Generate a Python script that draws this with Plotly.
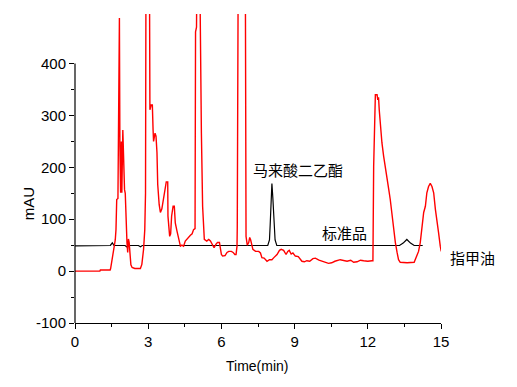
import plotly.graph_objects as go

# 指甲油 (red) trace: time (min) and signal (mAU); 600 = peak runs off the top
red_t = [0.00, 1.02, 1.04, 1.44, 1.46, 1.50, 1.55, 1.60, 1.65, 1.68, 1.71, 1.76, 1.79, 1.82, 1.84, 1.87,
         1.90, 1.92, 1.96, 1.99, 2.03, 2.06, 2.10, 2.13, 2.16, 2.19, 2.22, 2.25, 2.29, 2.34, 2.45,
         2.68, 2.74, 2.81, 2.86, 2.89, 2.91, 3.05, 3.07, 3.12, 3.17, 3.20, 3.22, 3.28, 3.32, 3.36,
         3.39, 3.45, 3.50, 3.56, 3.63, 3.70, 3.74, 3.80, 3.81, 3.88, 3.92, 3.96, 4.02, 4.07, 4.11,
         4.18, 4.25, 4.32, 4.38, 4.45, 4.52, 4.59, 4.66, 4.73, 4.80, 4.86, 4.92, 4.94, 4.98, 5.00,
         5.11, 5.13, 5.18, 5.23, 5.27, 5.30, 5.40, 5.48, 5.55, 5.64, 5.70, 5.78, 5.84, 5.92, 5.95,
         6.00, 6.05, 6.15, 6.23, 6.30, 6.41, 6.48, 6.55, 6.60, 6.64, 6.65, 6.69, 6.98, 7.01, 7.06,
         7.12, 7.16, 7.20, 7.26, 7.29, 7.40, 7.53, 7.60, 7.66, 7.75, 7.87, 7.97, 8.07, 8.15, 8.28,
         8.38, 8.45, 8.55, 8.65, 8.72, 8.78, 8.86, 8.93, 9.03, 9.15, 9.30, 9.40, 9.50, 9.62, 9.75,
         9.85, 10.00, 10.13, 10.26, 10.39, 10.52, 10.65, 10.87, 11.00, 11.15, 11.30, 11.42, 11.56,
         11.70, 11.83, 12.00, 12.17, 12.21, 12.24, 12.28, 12.31, 12.35, 12.38, 12.41, 12.44, 12.47,
         12.51, 12.58, 12.65, 12.72, 12.79, 12.86, 12.92, 12.99, 13.06, 13.13, 13.20, 13.26, 13.33,
         13.61, 13.90, 13.95, 14.01, 14.08, 14.15, 14.22, 14.29, 14.36, 14.42, 14.49, 14.56, 14.63,
         14.70, 14.77, 14.84, 14.90, 14.97, 15.01]
red_v = [0, 0, 2, 2, 5, 15, 28, 42, 60, 80, 138, 140, 363, 488, 240, 151,
         250, 151, 272, 189, 157, 150, 67, 55, 36, 62, 55, 30, 12, 7, 5,
         5, 13, 42, 80, 150, 600, 600, 311, 320, 320, 272, 250, 266, 260, 228,
         167, 128, 113, 120, 142, 161, 172, 172, 106, 67, 72, 106, 125, 125, 93,
         77, 61, 48, 50, 48, 58, 62, 67, 69, 72, 80, 82, 461, 470, 600,
         600, 474, 266, 125, 77, 61, 58, 61, 58, 48, 45, 52, 55, 55, 45,
         32, 29, 30, 36, 38, 38, 36, 32, 32, 48, 84, 600, 600, 67, 50,
         55, 65, 60, 48, 42, 38, 38, 35, 26, 25, 19, 22, 22, 26, 32,
         40, 42, 40, 32, 38, 40, 33, 35, 29, 28, 19, 18, 20, 19, 24,
         25, 21, 19, 17, 15, 16, 19, 22, 21, 19, 21, 17, 18,
         21, 20, 19, 20, 20, 202, 300, 340, 340, 340, 330, 335, 310,
         279, 247, 221, 196, 176, 157, 138, 106, 74, 55, 36, 22, 17,
         16, 17, 22, 29, 38, 55, 80, 113, 125, 151, 163, 169, 163,
         151, 119, 99, 74, 48, 38]

# 标准品 (black) trace
blk_t = [0.00, 1.03, 1.05, 1.45, 1.53, 1.60, 2.05, 2.13, 2.20, 2.60, 2.68, 2.76, 7.90, 7.97,
         8.00, 8.03, 8.07, 8.11, 8.15, 8.20, 8.27, 13.30, 13.45, 13.60, 13.75, 13.90, 14.25]
blk_v = [48.5, 48.5, 49.4, 49.4, 54.5, 49.4, 49.4, 46.5, 49.4, 49.4, 47, 49.4, 49.4, 60,
         90, 150, 169, 140, 100, 60, 49.4, 49.4, 54, 61, 54, 49.4, 49.4]

x_ticks = [0, 3, 6, 9, 12, 15]
x_minor = [1.5, 4.5, 7.5, 10.5, 13.5]
y_ticks = [-100, 0, 100, 200, 300, 400]
y_ticktext = ["-100", "0", "100", "200", "300", "400"]
y_minor = [-50, 50, 150, 250, 350]

labels = ["马来酸二乙酯", "标准品", "指甲油"]
label_t = [9.15, 11.06, 16.28]
label_v = [196, 74.4, 27]

X0, X1 = 0, 15
Y0, Y1 = -100, 495.5

cjk = "Noto Sans CJK SC"
latin = "Liberation Sans, Arial"

fig = go.Figure()
fig.add_trace(go.Scatter(x=blk_t, y=blk_v, mode="lines",
                         line=dict(color="black", width=1.2), showlegend=False))
fig.add_trace(go.Scatter(x=red_t, y=red_v, mode="lines",
                         line=dict(color="#ff0000", width=1.4), showlegend=False))

for txt, t, v in zip(labels, label_t, label_v):
    fig.add_annotation(x=(t - X0) / (X1 - X0), y=(v - Y0) / (Y1 - Y0),
                       xref="paper", yref="paper", text=txt, showarrow=False,
                       xanchor="center", yanchor="middle",
                       font=dict(family=cjk, size=15, color="black"))

# axis titles (positions as fractions of the plot area)
fig.add_annotation(x=-47 / 366, y=(323.3 - 204.5) / 309, xref="paper", yref="paper",
                   text="mAU", textangle=-90, showarrow=False,
                   xanchor="center", yanchor="middle",
                   font=dict(family=latin, size=15, color="black"))
fig.add_annotation(x=(257 - 75) / 366, y=(323.3 - 366) / 309, xref="paper", yref="paper",
                   text="Time(min)", showarrow=False,
                   xanchor="center", yanchor="middle",
                   font=dict(family=latin, size=14, color="black"))

# left axis line stops at the top tick (400)
fig.add_shape(type="line", xref="paper", yref="y", x0=0, x1=0, y0=y_ticks[0], y1=y_ticks[-1],
              line=dict(color="black", width=1.2))

fig.update_layout(
    width=509, height=379,
    margin=dict(l=67, r=76, t=6, b=64),
    paper_bgcolor="white", plot_bgcolor="white",
    font=dict(family=latin, size=15, color="black"),
    xaxis=dict(range=[X0, X1], tickvals=x_ticks, showgrid=False, zeroline=False,
               showline=True, linecolor="black", linewidth=1.2,
               ticks="outside", ticklen=5, tickwidth=1, tickcolor="black",
               minor=dict(tickvals=x_minor, ticks="outside", ticklen=3,
                          tickwidth=1, tickcolor="black", showgrid=False),
               tickfont=dict(family=latin, size=15)),
    yaxis=dict(range=[Y0, Y1], tickvals=y_ticks, ticktext=y_ticktext,
               showgrid=False, zeroline=False, showline=False,
               ticks="outside", ticklen=5, tickwidth=1, tickcolor="black",
               minor=dict(tickvals=y_minor, ticks="outside", ticklen=3,
                          tickwidth=1, tickcolor="black", showgrid=False),
               tickfont=dict(family=latin, size=15)),
)

fig.write_html("out.html")
